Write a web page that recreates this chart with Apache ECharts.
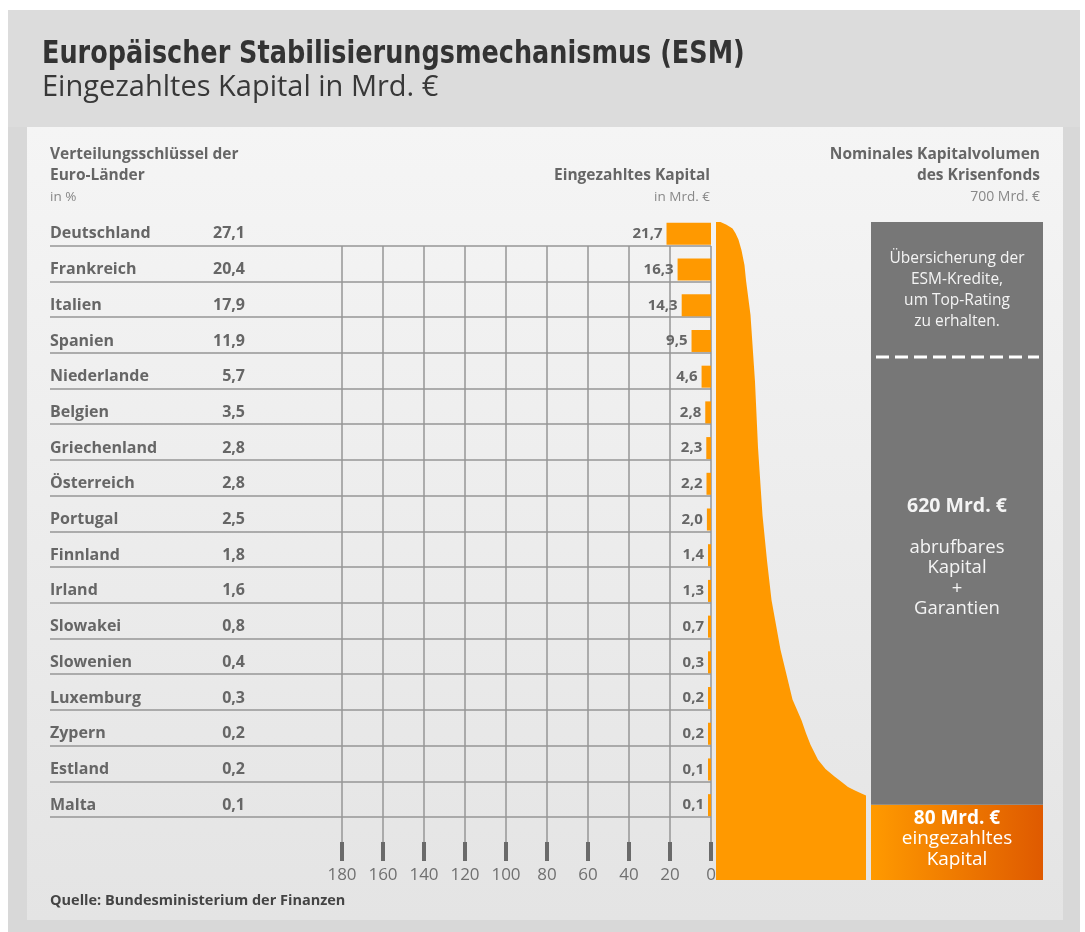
<!DOCTYPE html>
<html>
<head>
<meta charset="utf-8">
<title>ESM – Eingezahltes Kapital</title>
<script src="https://cdn.jsdelivr.net/npm/echarts@6/dist/echarts.min.js"></script>
<style>
  html, body { margin: 0; padding: 0; background: #fff; }
  #chart { width: 1085px; height: 932px; }
</style>
</head>
<body>
<div id="chart"></div>
<script>
// Euro-Länder, Verteilungsschlüssel (%) und eingezahltes Kapital (Mrd. €)
const countries = ['Deutschland', 'Frankreich', 'Italien', 'Spanien', 'Niederlande', 'Belgien',
  'Griechenland', 'Österreich', 'Portugal', 'Finnland', 'Irland', 'Slowakei', 'Slowenien',
  'Luxemburg', 'Zypern', 'Estland', 'Malta']
const shares = [27.1, 20.4, 17.9, 11.9, 5.7, 3.5, 2.8, 2.8, 2.5, 1.8, 1.6, 0.8, 0.4, 0.3, 0.2, 0.2, 0.1]
const paidIn = [21.7, 16.3, 14.3, 9.5, 4.6, 2.8, 2.3, 2.2, 2.0, 1.4, 1.3, 0.7, 0.3, 0.2, 0.2, 0.1, 0.1]

// untere Achse in Mrd. €
const axisMin = 0
const axisMax = 180
const axisStep = 20

// Krisenfonds 700 Mrd. €: eingezahlt + abrufbar
const fundTotal = 700
const fundPaid = 80
const fundCallable = 620

// orange Fläche zwischen Balken und Fonds: Breite (%) je Höhe (Mrd. €)
const flowLevel = [700, 697, 693, 688, 681, 670, 654, 638, 601, 530, 460, 388, 340, 298, 245, 192, 170, 156, 144, 128, 118, 110, 104, 99, 95, 92, 90, 0]
const flowWidth = [3, 7, 11, 13, 15, 17, 19, 20, 23, 26, 28, 31, 34, 37, 43, 51, 57, 60, 63, 68, 73, 79, 84, 88, 93, 97, 100, 100]

const FONT = '"Open Sans", "Noto Sans", sans-serif'
const TITLE_FONT = '"DejaVu Sans Condensed", "DejaVu Sans", sans-serif'
const ORANGE = '#ff9900'
const GREY_TEXT = '#666666'
const LINE = '#969696'

const fmt = v => v.toFixed(1).replace('.', ',')

const chart = echarts.init(document.getElementById('chart'))

function txt(x, y, text, opt, extra) {
  return Object.assign({
    type: 'text', x, y, z: 1,
    style: Object.assign({
      text, fontFamily: FONT, fontSize: 14, fill: GREY_TEXT,
      align: 'left', verticalAlign: 'middle',
    }, opt),
  }, extra)
}

const options = {
  animation: false,
  graphic: {
    elements: [
      // Rahmen + Kopf
      { type: 'rect', z: 0, shape: { x: 8, y: 10, width: 1072, height: 922 }, style: { fill: '#d8d8d8' } },
      { type: 'rect', z: 0, shape: { x: 8, y: 10, width: 1072, height: 117 }, style: { fill: '#dcdcdc' } },
      {
        type: 'rect', z: 0,
        shape: { x: 27, y: 127, width: 1036, height: 793 },
        style: {
          fill: new echarts.graphic.LinearGradient(0, 0, 0, 1, [
            { offset: 0, color: '#f5f5f5' },
            { offset: 1, color: '#e4e4e4' },
          ]),
        },
      },
      txt(42, 55, 'Europäischer Stabilisierungsmechanismus (ESM)',
        { fontFamily: TITLE_FONT, fontSize: 31.5, fontWeight: 'bold', fill: '#333333' }, { scaleX: 0.9 }),
      txt(42, 88, 'Eingezahltes Kapital in Mrd. €', { fontSize: 29, fill: '#383838' }),

      // Spaltenköpfe
      txt(50, 155, 'Verteilungsschlüssel der', { fontSize: 15.5, fontWeight: 'bold' }),
      txt(50, 176, 'Euro-Länder', { fontSize: 15.5, fontWeight: 'bold' }),
      txt(50, 197, 'in %', { fontSize: 13.5, fill: '#888888' }),
      txt(710, 176, 'Eingezahltes Kapital', { fontSize: 15.5, fontWeight: 'bold', align: 'right' }),
      txt(710, 197, 'in Mrd. €', { fontSize: 13.5, fill: '#888888', align: 'right' }),
      txt(1040, 155, 'Nominales Kapitalvolumen', { fontSize: 15.5, fontWeight: 'bold', align: 'right' }),
      txt(1040, 176, 'des Krisenfonds', { fontSize: 15.5, fontWeight: 'bold', align: 'right' }),
      txt(1040, 197, '700 Mrd. €', { fontSize: 14, fill: '#888888', align: 'right' }),

      txt(50, 901, 'Quelle: Bundesministerium der Finanzen', { fontSize: 14.5, fontWeight: 'bold', fill: '#444444' }),

      // Text + Trennlinie im grauen Block
      {
        type: 'text', x: 957, y: 248, z: 100,
        style: {
          text: 'Übersicherung der\nESM-Kredite,\num Top-Rating\nzu erhalten.',
          fontFamily: FONT, fontSize: 15.5, lineHeight: 21, fill: '#f4f4f4',
          align: 'center', verticalAlign: 'top',
        },
      },
      {
        type: 'line', z: 100,
        shape: { x1: 876, y1: 357, x2: 1039, y2: 357 },
        style: { stroke: '#ffffff', lineWidth: 3, lineDash: [13, 6] },
      },
    ],
  },
  grid: [
    { left: 50, width: 661, top: 210, height: 607 },   // Zeilenlinien
    { left: 342, width: 369, top: 216, height: 607 },  // Balken
    { left: 342, width: 369, top: 246, height: 596 },  // Skala
    { left: 716, width: 150, top: 222, height: 658 },  // Fläche
    { left: 871, width: 172, top: 222, height: 658 },  // Fonds
  ],
  xAxis: [
    { gridIndex: 0, type: 'value', show: false, min: 0, max: 1 },
    { gridIndex: 1, type: 'value', show: false, inverse: true, min: axisMin, max: axisMax },
    {
      gridIndex: 2, type: 'value', inverse: true, position: 'bottom',
      min: axisMin, max: axisMax, interval: axisStep,
      axisLine: { show: false },
      axisTick: { show: true, length: 19, lineStyle: { color: '#6a6a6a', width: 4 } },
      axisLabel: { margin: 25, color: '#707070', fontSize: 17, fontFamily: FONT },
      splitLine: { show: true, lineStyle: { color: LINE, width: 1.5 } },
    },
    { gridIndex: 3, type: 'value', show: false, min: 0, max: 100 },
    { gridIndex: 4, type: 'category', show: false, data: ['ESM'] },
  ],
  yAxis: [
    {
      gridIndex: 0, type: 'category', inverse: true, data: countries,
      axisLine: { show: false }, axisTick: { show: false }, axisLabel: { show: false },
      splitLine: { show: true, showMinLine: false, interval: 0, lineStyle: { color: LINE, width: 1.5 } },
    },
    {
      gridIndex: 1, type: 'category', inverse: true, data: countries,
      axisLine: { show: false }, axisTick: { show: false }, splitLine: { show: false },
      axisLabel: {
        interval: 0, margin: 292, align: 'left',
        formatter: (v, i) => `{n|${v}}{p|${fmt(shares[i])}}`,
        rich: {
          n: { width: 150, align: 'left', fontFamily: FONT, fontSize: 16, fontWeight: 'bold', color: GREY_TEXT },
          p: { width: 45, align: 'right', fontFamily: FONT, fontSize: 16, fontWeight: 'bold', color: GREY_TEXT },
        },
      },
    },
    { gridIndex: 2, type: 'value', show: false, min: 0, max: 1 },
    { gridIndex: 3, type: 'value', show: false, min: 0, max: fundTotal },
    { gridIndex: 4, type: 'value', show: false, min: 0, max: fundTotal },
  ],
  series: [
    {
      type: 'bar', xAxisIndex: 1, yAxisIndex: 1,
      data: paidIn, barWidth: 22, barMinHeight: 3,
      itemStyle: { color: ORANGE },
      label: {
        show: true, position: 'left', distance: 4,
        formatter: p => fmt(p.value),
        fontFamily: FONT, fontSize: 15, fontWeight: 'bold', color: GREY_TEXT,
      },
    },
    {
      type: 'custom', xAxisIndex: 3, yAxisIndex: 3,
      data: flowLevel.map((l, i) => [flowWidth[i], l]),
      encode: { x: 0, y: 1 },
      renderItem: (params, api) => {
        if (params.dataIndex !== 0) return null
        const pts = [api.coord([0, 0])]
        for (let i = flowLevel.length - 1; i >= 0; i--) {
          pts.push(api.coord([flowWidth[i], flowLevel[i]]))
        }
        pts.push(api.coord([0, flowLevel[0]]))
        return { type: 'polygon', shape: { points: pts }, style: { fill: ORANGE } }
      },
    },
    {
      type: 'bar', xAxisIndex: 4, yAxisIndex: 4, stack: 'fund',
      data: [fundPaid], barWidth: '100%',
      itemStyle: {
        color: new echarts.graphic.LinearGradient(0, 0, 1, 0, [
          { offset: 0, color: '#ff9a00' },
          { offset: 1, color: '#df5a00' },
        ]),
      },
      label: {
        show: true, position: ['50%', '45%'], align: 'center', verticalAlign: 'middle',
        formatter: p => `{b|${p.value} Mrd. €}\n{n|eingezahltes}\n{n|Kapital}`,
        rich: {
          b: { fontFamily: FONT, fontSize: 19, fontWeight: 'bold', color: '#ffffff', lineHeight: 20.5, align: 'center' },
          n: { fontFamily: FONT, fontSize: 19, color: '#ffffff', lineHeight: 20.5, align: 'center' },
        },
      },
    },
    {
      type: 'bar', xAxisIndex: 4, yAxisIndex: 4, stack: 'fund',
      data: [fundCallable], barWidth: '100%',
      itemStyle: { color: '#777777' },
      label: {
        show: true, position: ['50%', '57.5%'], align: 'center', verticalAlign: 'middle',
        formatter: p => `{b|${p.value} Mrd. €}\n{g|}\n{n|abrufbares}\n{n|Kapital}\n{n|+}\n{n|Garantien}`,
        rich: {
          b: { fontFamily: FONT, fontSize: 19.5, fontWeight: 'bold', color: '#f4f4f4', lineHeight: 21, align: 'center' },
          g: { fontSize: 12, lineHeight: 21 },
          n: { fontFamily: FONT, fontSize: 18.5, color: '#f4f4f4', lineHeight: 20.3, align: 'center' },
        },
      },
    },
  ],
}

chart.setOption(options)
</script>
</body>
</html>
